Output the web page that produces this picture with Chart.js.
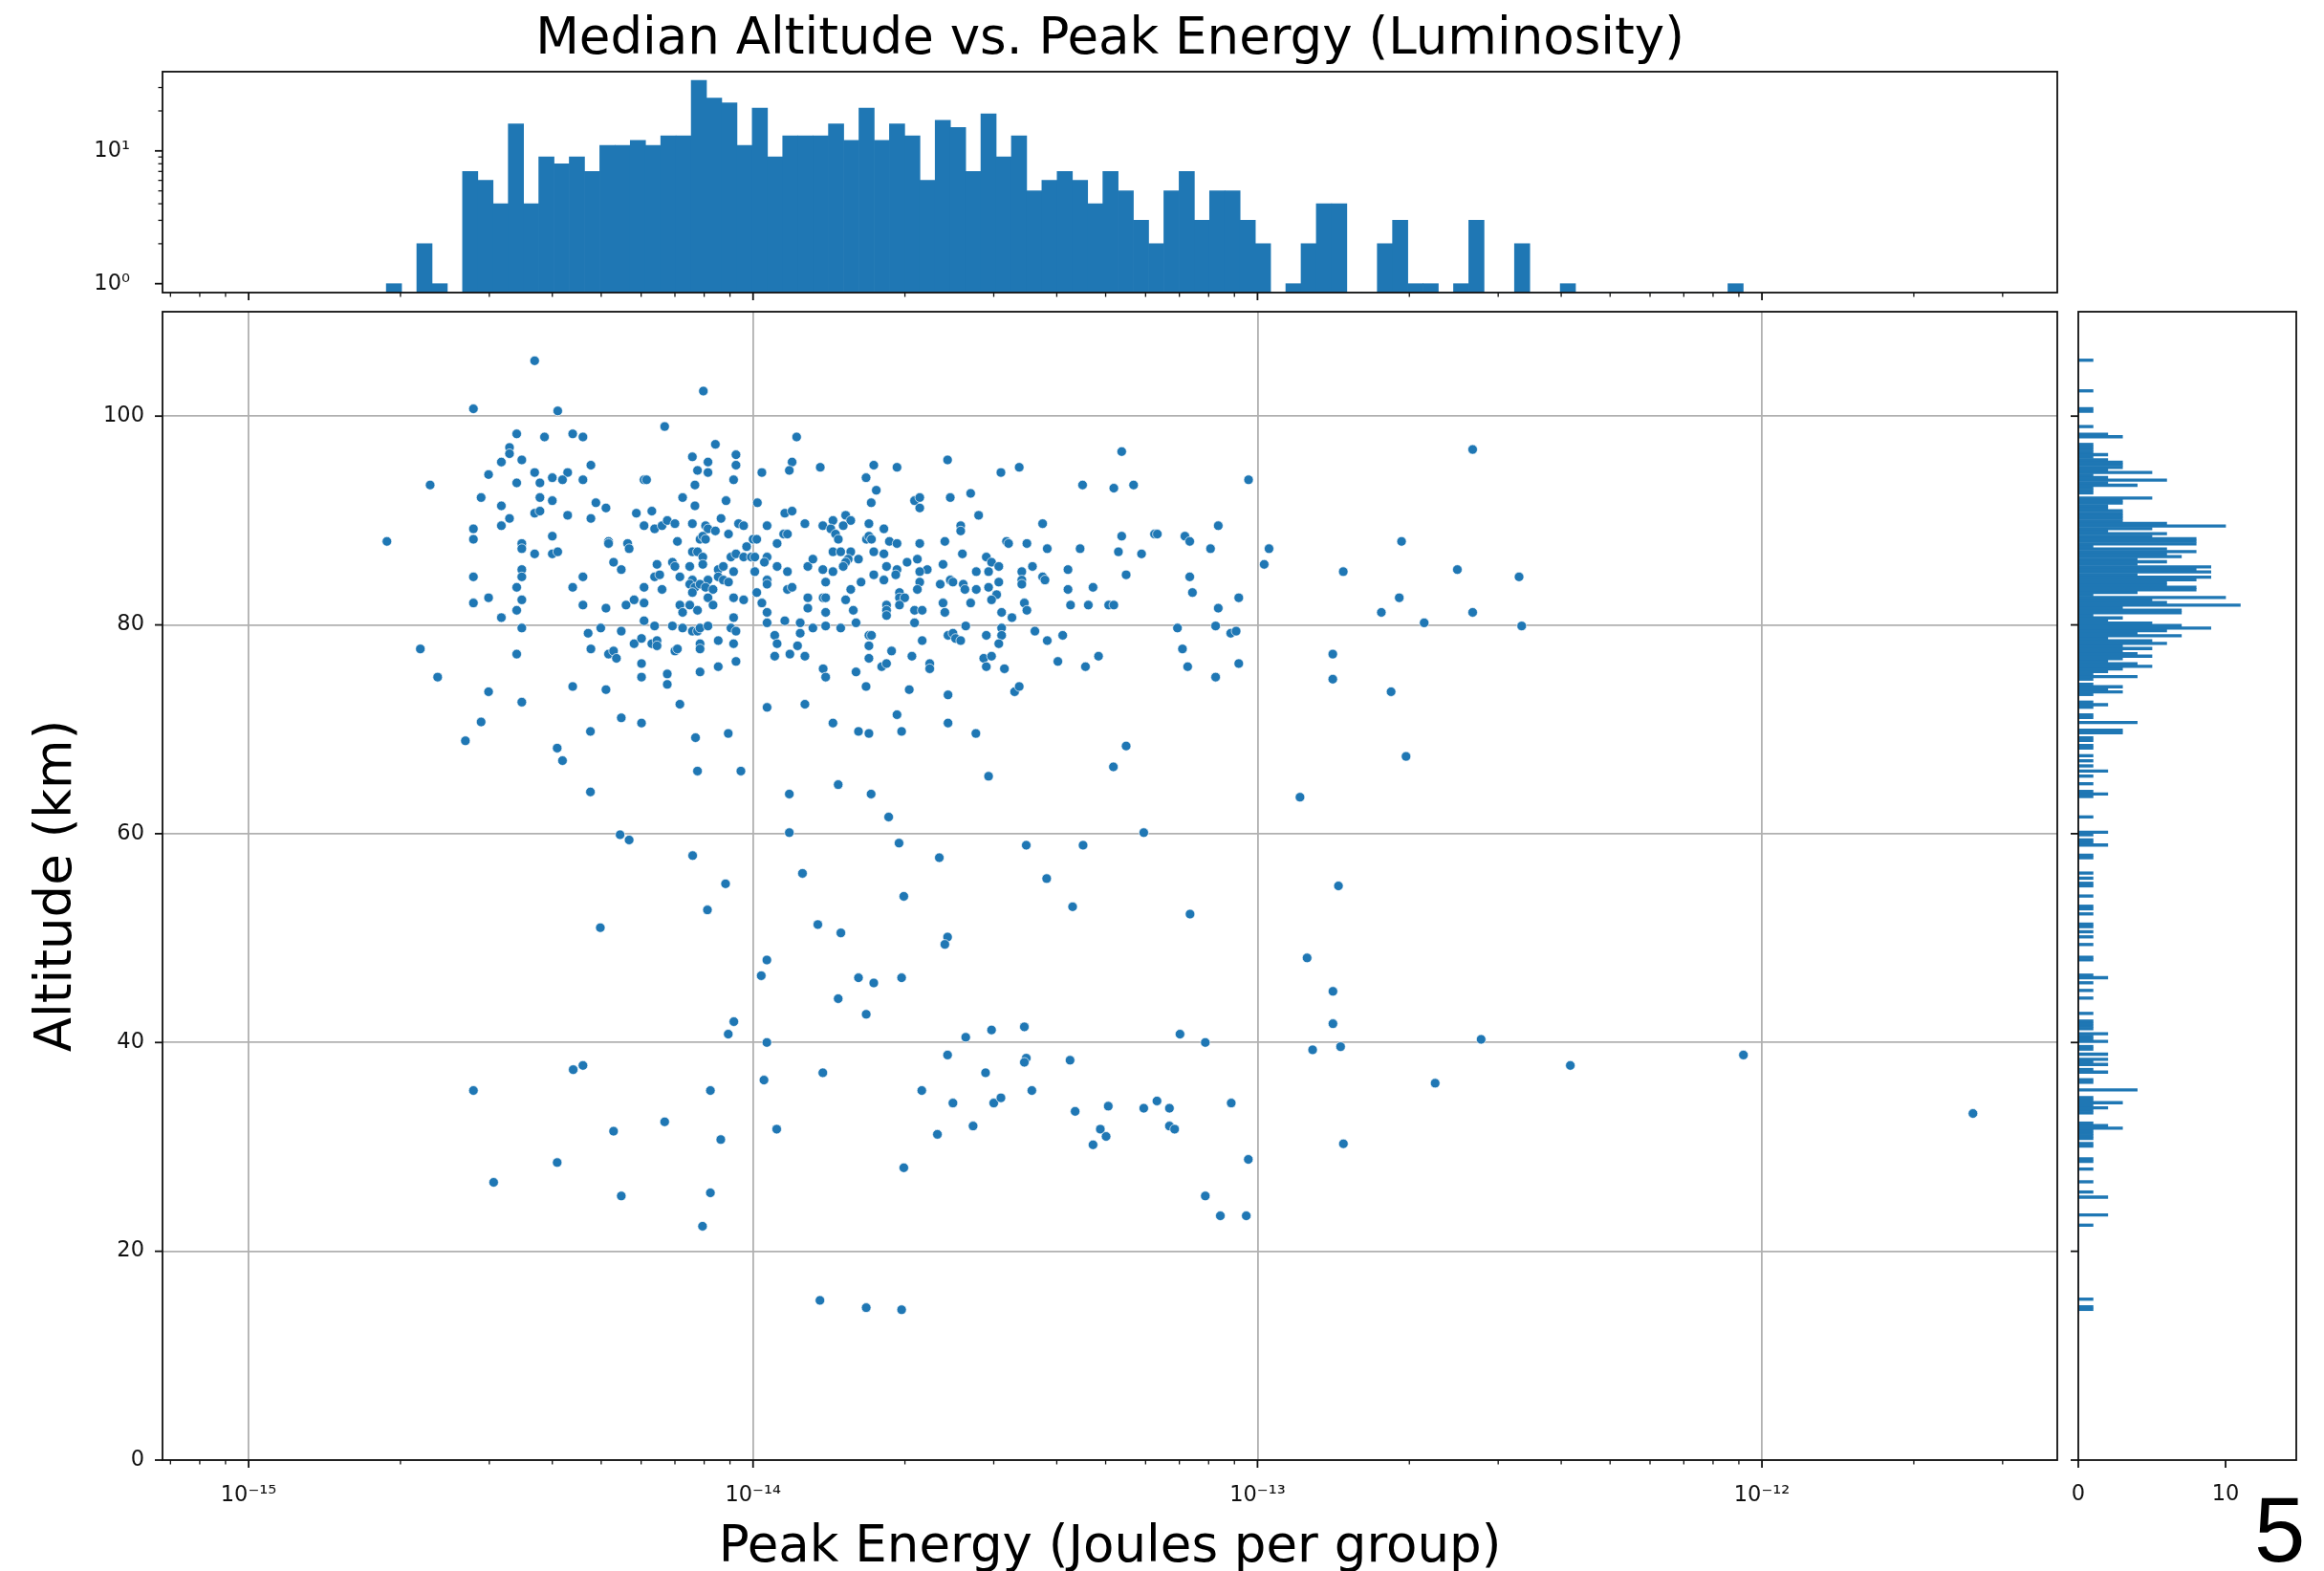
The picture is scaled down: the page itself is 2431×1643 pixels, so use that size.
<!DOCTYPE html>
<html>
<head>
<meta charset="utf-8">
<title>Median Altitude vs. Peak Energy</title>
<script src="https://cdn.jsdelivr.net/npm/chart.js@4.4.1/dist/chart.umd.min.js"></script>
<style>
    html, body { margin: 0; padding: 0; background: #ffffff; }
    #figure { position: relative; width: 2431px; height: 1643px; overflow: hidden; background: #ffffff; }
    #figure canvas { position: absolute; left: 0; top: 0; }
    #panel-label {
        position: absolute; left: 2358px; top: 1552px;
        font: 96px/1 "Liberation Sans", Arial, sans-serif; color: #000;
    }
</style>
</head>
<body>
<div id="figure">
    <canvas id="energyHist" width="2431" height="1643"></canvas>
    <canvas id="scatter" width="2431" height="1643"></canvas>
    <canvas id="altitudeHist" width="2431" height="1643"></canvas>
    <div id="panel-label">5</div>
</div>
<script>
// ---- data ----------------------------------------------------------------

// peak energy (J per group) of each event
const peakEnergy = [
    3.69e-15, 7.97e-15, 2.79e-15, 4.10e-15, 6.68e-15, 3.40e-15, 3.86e-15, 4.39e-15, 4.60e-15, 8.42e-15,
    3.29e-15, 3.29e-15, 9.25e-15, 3.17e-15, 3.48e-15, 7.58e-15, 8.14e-15, 9.25e-15, 4.77e-15, 7.76e-15,
    8.14e-15, 2.99e-15, 3.69e-15, 4.29e-15, 4.00e-15, 4.19e-15, 3.78e-15, 3.40e-15, 4.60e-15, 6.08e-15,
    6.15e-15, 9.15e-15, 2.29e-15, 7.67e-15, 2.89e-15, 3.78e-15, 4.00e-15, 7.25e-15, 8.84e-15, 3.17e-15,
    4.88e-15, 5.11e-15, 7.67e-15, 3.69e-15, 3.78e-15, 4.29e-15, 3.29e-15, 4.77e-15, 5.87e-15, 6.30e-15,
    8.64e-15, 2.79e-15, 3.17e-15, 6.08e-15, 6.38e-15, 6.60e-15, 6.76e-15, 7.00e-15, 7.58e-15, 8.05e-15,
    8.14e-15, 8.42e-15, 8.94e-15, 9.36e-15, 9.58e-15, 2.79e-15, 4.00e-15, 1.88e-15, 3.48e-15, 3.48e-15,
    3.69e-15, 4.00e-15, 4.10e-15, 5.17e-15, 5.17e-15, 5.64e-15, 5.68e-15, 7.08e-15, 7.85e-15, 7.95e-15,
    8.05e-15, 1.00e-14, 9.71e-15, 7.58e-15, 7.76e-15, 7.95e-15, 9.04e-15, 9.25e-15, 9.58e-15, 9.92e-15,
    5.29e-15, 5.48e-15, 6.45e-15, 6.92e-15, 7.00e-15, 7.49e-15, 7.95e-15, 8.53e-15, 8.73e-15, 9.15e-15,
    3.48e-15, 3.48e-15, 2.79e-15, 4.60e-15, 6.38e-15, 6.53e-15, 7.16e-15, 7.58e-15, 8.14e-15, 8.53e-15,
    8.73e-15, 8.94e-15, 3.40e-15, 4.39e-15, 6.08e-15, 6.60e-15, 7.49e-15, 7.67e-15, 7.85e-15, 8.05e-15,
    8.33e-15, 7.58e-15, 8.14e-15, 2.79e-15, 2.99e-15, 3.48e-15, 4.60e-15, 5.11e-15, 5.60e-15, 5.81e-15,
    6.08e-15, 7.16e-15, 7.49e-15, 7.76e-15, 8.33e-15, 9.15e-15, 9.58e-15, 3.40e-15, 3.17e-15, 7.25e-15,
    9.15e-15, 3.48e-15, 4.71e-15, 4.99e-15, 5.48e-15, 6.08e-15, 6.38e-15, 6.92e-15, 7.25e-15, 7.58e-15,
    7.76e-15, 7.85e-15, 8.14e-15, 9.04e-15, 9.25e-15, 2.19e-15, 3.40e-15, 4.77e-15, 5.17e-15, 5.29e-15,
    5.36e-15, 5.81e-15, 6.01e-15, 6.30e-15, 6.45e-15, 6.45e-15, 7.00e-15, 7.08e-15, 7.85e-15, 7.85e-15,
    8.53e-15, 9.15e-15, 6.01e-15, 6.01e-15, 6.76e-15, 6.76e-15, 7.85e-15, 8.53e-15, 9.25e-15, 2.37e-15,
    2.99e-15, 3.48e-15, 4.39e-15, 5.11e-15, 7.16e-15, 2.89e-15, 5.48e-15, 6.01e-15,

    1.22e-14, 5.38e-14, 2.43e-14, 1.195e-14, 1.18e-14, 1.041e-14, 1.359e-14, 1.735e-14, 1.929e-14, 3.10e-14,
    3.37e-14, 1.675e-14, 1.755e-14, 4.50e-14, 5.19e-14, 5.68e-14, 2.70e-14, 2.46e-14, 2.09e-14, 2.14e-14,
    2.14e-14, 1.02e-14, 1.715e-14, 1.156e-14, 1.195e-14, 2.80e-14, 1.066e-14, 1.267e-14, 1.375e-14, 1.44e-14,
    1.426e-14, 1.526e-14, 1.562e-14, 1.509e-14, 1.697e-14, 1.817e-14, 2.58e-14, 2.58e-14, 3.75e-14, 1.15e-14,
    1.17e-14, 1.017e-14, 1.116e-14, 1.457e-14, 1.476e-14, 1.678e-14, 1.697e-14, 1.717e-14, 1.863e-14, 1.929e-14,
    2.14e-14, 2.40e-14, 3.18e-14, 3.21e-14, 3.49e-14, 5.38e-14, 6.25e-14, 3.83e-14, 4.45e-14, 5.30e-14,
    5.89e-14, 1.008e-14, 1.066e-14, 1.053e-14, 1.116e-14, 1.284e-14, 1.314e-14, 1.44e-14, 1.492e-14, 1.562e-14,
    1.544e-14, 1.526e-14, 1.618e-14, 1.735e-14, 1.817e-14, 2.02e-14, 2.117e-14, 2.60e-14, 2.90e-14, 2.97e-14,
    3.07e-14, 2.38e-14, 1.839e-14, 1.929e-14, 1.918e-14, 2.215e-14, 2.14e-14, 1.008e-14, 1.17e-14, 1.375e-14,
    1.44e-14, 1.509e-14, 1.735e-14, 2.77e-14, 2.93e-14, 3.41e-14, 3.58e-14, 4.21e-14, 5.49e-14, 1.066e-14,
    1.066e-14, 1.393e-14, 1.637e-14, 1.817e-14, 2.14e-14, 2.35e-14, 2.46e-14, 2.49e-14, 2.61e-14, 2.63e-14,
    2.77e-14, 2.93e-14, 3.07e-14, 3.41e-14, 3.41e-14, 3.75e-14, 3.79e-14, 4.21e-14, 4.72e-14, 1.017e-14,
    1.17e-14, 1.195e-14, 1.562e-14, 1.951e-14, 2.117e-14, 3.04e-14, 1.284e-14, 1.377e-14, 1.393e-14, 1.526e-14,
    1.839e-14, 1.951e-14, 1.998e-14, 2.38e-14, 2.70e-14, 2.97e-14, 3.45e-14, 4.26e-14, 4.62e-14, 5.07e-14,
    5.19e-14, 1.041e-14, 1.284e-14, 1.58e-14, 1.839e-14, 1.951e-14, 2.09e-14, 2.164e-14, 2.40e-14, 3.49e-14,
    1.066e-14, 1.393e-14, 1.839e-14, 3.11e-14, 3.26e-14, 1.156e-14, 1.066e-14, 1.24e-14, 1.314e-14, 1.393e-14,
    1.492e-14, 1.60e-14, 2.09e-14, 2.64e-14, 3.11e-14, 3.62e-14, 1.104e-14, 1.24e-14, 1.697e-14, 1.717e-14,
    2.435e-14, 2.49e-14, 2.52e-14, 2.58e-14, 2.90e-14, 3.11e-14, 3.83e-14, 4.11e-14, 1.116e-14, 1.225e-14,
    1.697e-14, 2.164e-14, 3.07e-14, 1.104e-14, 1.183e-14, 1.267e-14, 1.882e-14, 2.065e-14, 1.697e-14, 2.866e-14,
    2.97e-14, 2.90e-14, 1.799e-14, 1.839e-14, 2.24e-14, 2.24e-14, 3.15e-14, 4.02e-14, 4.56e-14, 4.84e-14,
    1.377e-14, 1.393e-14, 1.60e-14, 1.675e-14, 2.04e-14, 2.435e-14, 3.30e-14, 3.37e-14, 1.066e-14, 1.267e-14,
    1.929e-14, 1.44e-14, 2.435e-14,

    2.67e-13, 9.60e-14, 8.36e-14, 6.33e-14, 7.18e-14, 7.34e-14, 8.07e-14, 1.054e-13, 1.93e-13, 1.031e-13,
    1.479e-13, 2.49e-13, 3.30e-13, 7.34e-14, 7.43e-14, 9.18e-14, 1.91e-13, 8.36e-14, 1.76e-13, 2.67e-13,
    6.94e-14, 8.26e-14, 8.85e-14, 9.07e-14, 2.14e-13, 3.34e-13, 7.10e-14, 1.41e-13, 7.27e-14, 9.18e-14,
    8.26e-14, 1.41e-13, 1.84e-13,

    2.69e-15, 4.09e-15, 4.19e-15, 4.76e-15, 7.69e-15, 8.93e-15, 7.76e-15, 9.46e-15, 4.76e-15, 1.618e-14,
    1.697e-14, 1.97e-14, 2.765e-14, 5.49e-14, 5.18e-14, 2.93e-14, 1.475e-14, 1.18e-14, 1.714e-14, 1.857e-14,
    5.45e-15, 5.68e-15, 1.18e-14, 1.947e-14, 3.48e-14, 4.51e-14, 5.95e-14, 7.59e-15, 2.34e-14, 1.253e-14,
    3.82e-14, 8.82e-15, 1.99e-14, 4.30e-14, 8.12e-15, 7.35e-14, 4.98e-15, 1.344e-14, 1.493e-14, 2.43e-14,
    2.40e-14, 1.065e-14, 1.038e-14, 1.618e-14, 1.735e-14, 1.97e-14, 1.475e-14, 1.676e-14, 9.16e-15, 8.93e-15,
    1.065e-14, 2.64e-14, 2.97e-14, 3.45e-14, 7.02e-14, 7.88e-14, 2.43e-14, 3.48e-14, 3.45e-14, 4.25e-14,
    4.40e-15, 4.60e-15, 1.375e-14, 2.89e-14, 2.79e-15, 8.23e-15, 1.051e-14, 2.16e-14, 3.57e-14, 2.49e-14,
    3.00e-14, 3.10e-14, 4.35e-14, 5.06e-14, 5.95e-14, 6.32e-14, 6.69e-14, 6.68e-15, 5.29e-15, 8.63e-15,
    1.114e-14, 2.32e-14, 2.73e-14, 4.88e-14, 5.01e-14, 4.72e-14, 6.69e-14, 6.85e-14, 4.09e-15, 3.06e-15,
    1.99e-14, 5.48e-15, 8.23e-15, 7.88e-14, 7.94e-15, 1.357e-14, 1.676e-14, 1.97e-14,

    1.97e-13, 1.214e-13, 1.447e-13, 1.254e-13, 1.411e-13, 1.411e-13, 1.286e-13, 1.461e-13, 2.775e-13, 9.19e-13,
    4.17e-13, 2.25e-13, 8.87e-14, 2.62e-12, 1.48e-13, 9.59e-14, 8.44e-14, 9.50e-14
];

// median altitude (km) of each event, same order as peakEnergy
const medianAltitude = [
    105.3, 102.4, 100.7, 100.5, 99.0, 98.3, 98.0, 98.3, 98.0, 97.3,
    97.0, 96.4, 96.3, 95.6, 95.8, 96.1, 95.6, 95.3, 95.3, 94.8,
    94.6, 94.4, 94.6, 94.6, 94.1, 93.9, 93.6, 93.6, 93.9, 93.9,
    93.9, 93.9, 93.4, 93.4, 92.2, 92.2, 91.9, 92.2, 91.9, 91.4,
    91.7, 91.2, 91.4, 90.7, 90.9, 90.5, 90.2, 90.2, 90.7, 90.9,
    90.2, 89.2, 89.5, 89.5, 89.2, 89.5, 90.0, 89.7, 89.7, 89.5,
    89.2, 89.0, 88.7, 89.7, 89.5, 88.2, 88.5, 88.0, 87.8, 87.3,
    86.8, 86.8, 87.0, 88.0, 87.8, 87.8, 87.3, 88.0, 88.2, 88.5,
    88.2, 88.2, 87.5, 87.0, 87.0, 86.5, 86.5, 86.8, 86.5, 86.5,
    86.0, 85.3, 85.8, 86.0, 85.6, 85.6, 85.8, 85.3, 85.6, 85.1,
    85.3, 84.6, 84.6, 84.6, 84.6, 84.8, 84.6, 84.3, 84.3, 84.6,
    84.3, 84.1, 83.6, 83.6, 83.6, 83.4, 83.9, 83.6, 83.9, 83.6,
    83.4, 83.1, 82.6, 82.1, 82.6, 82.4, 81.9, 81.6, 81.9, 82.4,
    82.1, 81.9, 81.9, 81.4, 81.9, 82.6, 82.4, 81.4, 80.7, 81.2,
    80.7, 79.7, 79.2, 79.7, 79.4, 80.4, 79.9, 79.9, 79.7, 79.4,
    79.4, 79.7, 79.9, 79.7, 79.4, 77.7, 77.2, 77.7, 77.2, 77.5,
    76.8, 78.2, 78.7, 78.2, 78.5, 78.0, 77.5, 77.7, 78.2, 77.7,
    78.5, 78.2, 76.3, 75.0, 75.3, 74.3, 75.5, 76.0, 76.5, 75.0,
    73.6, 72.6, 74.1, 73.8, 72.4, 70.7, 71.1, 70.6,

    98.0, 96.6, 95.8, 95.6, 94.8, 94.6, 95.1, 95.3, 95.1, 94.6,
    95.1, 94.1, 92.9, 93.4, 93.1, 93.4, 92.6, 92.2, 91.9, 92.2,
    91.2, 91.7, 91.7, 90.7, 90.9, 90.5, 89.5, 89.7, 89.5, 90.0,
    89.2, 90.5, 90.0, 89.5, 89.7, 89.2, 89.5, 89.0, 89.7, 88.7,
    88.7, 88.2, 87.8, 88.7, 88.2, 88.2, 88.5, 88.2, 88.0, 87.8,
    87.8, 88.0, 88.0, 87.8, 87.8, 88.5, 88.7, 87.3, 87.3, 87.0,
    86.8, 86.5, 86.5, 86.0, 85.6, 85.6, 86.3, 87.0, 87.0, 87.0,
    86.3, 86.0, 86.3, 87.0, 86.8, 86.0, 86.3, 86.8, 86.5, 86.0,
    85.6, 85.8, 85.6, 85.3, 84.8, 85.3, 85.1, 85.1, 85.1, 85.3,
    85.1, 85.6, 84.8, 85.1, 85.1, 85.1, 85.6, 85.3, 84.8, 84.3,
    83.9, 84.1, 84.1, 84.3, 84.1, 83.9, 84.3, 84.1, 83.9, 83.4,
    83.4, 83.6, 84.1, 84.3, 83.9, 84.6, 84.3, 83.4, 83.6, 83.1,
    83.4, 83.6, 83.4, 83.1, 83.4, 82.9, 82.6, 82.6, 82.6, 82.4,
    81.9, 82.6, 82.6, 82.1, 82.1, 82.4, 82.1, 81.9, 81.9, 81.9,
    81.9, 82.1, 81.6, 81.4, 81.4, 81.9, 81.4, 81.4, 81.2, 81.4,
    81.2, 81.2, 80.9, 81.2, 80.7, 80.4, 80.2, 80.2, 79.7, 79.9,
    79.7, 80.2, 80.2, 79.9, 79.7, 79.4, 79.0, 79.2, 79.0, 79.0,
    79.0, 79.2, 78.7, 78.5, 79.0, 79.0, 78.5, 79.0, 78.2, 78.0,
    78.0, 78.5, 78.2, 77.0, 77.2, 77.0, 77.5, 77.0, 76.8, 76.8,
    77.0, 76.0, 76.0, 76.3, 76.3, 75.8, 75.8, 76.5, 76.0, 77.0,
    75.8, 75.0, 75.5, 74.1, 73.8, 73.3, 73.6, 74.1, 72.1, 72.4,
    71.4, 70.6, 70.6,

    96.8, 93.9, 89.5, 88.7, 88.5, 88.0, 87.3, 87.3, 88.0, 85.8,
    85.1, 85.3, 84.6, 84.6, 83.1, 82.6, 82.6, 81.6, 81.2, 81.2,
    79.7, 79.9, 79.2, 79.4, 80.2, 79.9, 77.7, 77.2, 76.0, 76.3,
    75.0, 74.8, 73.6,

    68.9, 68.2, 67.0, 69.8, 69.2, 69.6, 66.0, 66.0, 64.0, 69.8,
    69.6, 69.8, 69.6, 68.4, 66.4, 65.5, 64.7, 63.8, 63.8, 61.6,
    59.9, 59.4, 60.1, 59.1, 58.9, 58.9, 60.1, 57.9, 57.7, 56.2,
    55.7, 55.2, 54.0, 53.0, 52.7, 52.3, 51.0, 51.3, 50.5, 50.1,
    49.4, 47.9, 46.4, 46.2, 45.7, 46.2, 44.2, 42.7, 42.0, 40.8,
    40.0, 40.5, 41.2, 41.5, 40.8, 40.0, 38.8, 38.5, 38.1, 38.3,
    37.4, 37.8, 37.1, 37.1, 35.4, 35.4, 36.4, 35.4, 35.4, 34.2,
    34.2, 34.7, 33.4, 33.9, 33.7, 34.4, 33.7, 32.4, 31.5, 30.7,
    31.7, 31.2, 32.0, 31.7, 31.0, 30.2, 32.0, 31.7, 28.5, 26.6,
    28.0, 25.3, 25.6, 25.3, 22.4, 15.3, 14.6, 14.4,

    67.4, 63.5, 55.0, 48.1, 44.9, 41.8, 39.3, 39.6, 40.3, 38.8,
    37.8, 36.1, 34.2, 33.2, 30.3, 28.8, 23.4, 23.4
];

// energy histogram: 89 log-spaced bins between these edges
const energyBinLow = 1.875e-15;
const energyBinHigh = 9.18e-13;
const energyBinCounts = [
    1, 0, 2, 1, 0, 7, 6, 4, 16, 4,
    9, 8, 9, 7, 11, 11, 12, 11, 13, 13,
    34, 25, 23, 11, 21, 9, 13, 13, 13, 16,
    12, 21, 12, 16, 13, 6, 17, 15, 7, 19,
    9, 13, 5, 6, 7, 6, 4, 7, 5, 3,
    2, 5, 7, 3, 5, 5, 3, 2, 0, 1,
    2, 4, 4, 0, 0, 2, 3, 1, 1, 0,
    1, 3, 0, 0, 2, 0, 0, 1, 0, 0,
    0, 0, 0, 0, 0, 0, 0, 0, 1
];

// altitude histogram bins (km)
const altitudeBinStart = 14.07;
const altitudeBinEnd = 105.8;
const altitudeBinWidth = 0.2444;

// axis ticks
const energyTickExponents = [-15, -14, -13, -12];
const energyTickLabels = ['10\u207B\u00B9\u2075', '10\u207B\u00B9\u2074', '10\u207B\u00B9\u00B3', '10\u207B\u00B9\u00B2'];
const altitudeTicks = [0, 20, 40, 60, 80, 100];
const countTicks = [0, 10];
const logCountTicks = [1, 2, 3, 4, 5, 6, 7, 8, 9, 10, 20, 30];
const logCountLabels = { 1: '10\u2070', 10: '10\u00B9' };

// ---- layout --------------------------------------------------------------

const W = 2431, H = 1643;
const BLUE = '#1f77b4';
const INK = '#111111';

const mainArea = { left: 170, top: 326, right: 2152, bottom: 1527 };
const topArea = { left: 170, top: 75, right: 2152, bottom: 306 };
const sideArea = { left: 2174, top: 326, right: 2402, bottom: 1527 };

const energyMin = 6.75e-16;
const energyMax = 3.85e-12;

Chart.defaults.font.family = "'DejaVu Sans', sans-serif";
Chart.defaults.color = INK;

// spines and outward tick marks (major long, minor short)
const axisFrame = {
    id: 'axisFrame',
    afterDraw(chart) {
        const { ctx, chartArea: a } = chart;
        ctx.save();
        ctx.strokeStyle = INK;
        Object.values(chart.scales).forEach(scale => {
            scale.ticks.forEach(t => {
                const major = t.major !== false;
                const len = major ? 8 : 4.5;
                ctx.lineWidth = major ? 1.8 : 1.3;
                const p = scale.getPixelForValue(t.value);
                ctx.beginPath();
                if (scale.isHorizontal()) {
                    ctx.moveTo(p, a.bottom);
                    ctx.lineTo(p, a.bottom + len);
                } else {
                    ctx.moveTo(a.left, p);
                    ctx.lineTo(a.left - len, p);
                }
                ctx.stroke();
            });
        });
        ctx.lineWidth = 1.8;
        ctx.strokeRect(a.left, a.top, a.right - a.left, a.bottom - a.top);
        ctx.restore();
    }
};

function energyTicks(scale) {
    const ticks = [];
    for (let e = -16; e <= -11; e++) {
        for (let m = 1; m <= 9; m++) {
            const v = m * Math.pow(10, e);
            if (v >= scale.min && v <= scale.max) ticks.push({ value: v, major: m === 1 });
        }
    }
    scale.ticks = ticks;
}

function energyLabel(value, index, ticks) {
    if (!ticks[index].major) return '';
    const i = energyTickExponents.indexOf(Math.round(Math.log10(value)));
    return i >= 0 ? energyTickLabels[i] : '';
}

function fixedTicks(values) {
    return scale => { scale.ticks = values.map(v => ({ value: v, major: true })); };
}

function padding(area, yAxisWidth, xAxisHeight, topBoxes) {
    return {
        left: area.left - yAxisWidth,
        right: W - area.right,
        top: area.top - topBoxes,
        bottom: H - area.bottom - xAxisHeight
    };
}

const tickFont = { size: 22.5 };
const common = {
    responsive: false,
    animation: false,
    devicePixelRatio: 1,
    events: []
};

// ---- main scatter --------------------------------------------------------

const points = peakEnergy.map((e, i) => ({ x: e, y: medianAltitude[i] }));

new Chart(document.getElementById('scatter'), {
    type: 'scatter',
    data: {
        datasets: [{
            data: points,
            backgroundColor: BLUE,
            borderColor: 'rgba(255,255,255,0.85)',
            pointRadius: 5,
            pointBorderWidth: 0.8
        }]
    },
    options: {
        ...common,
        layout: { padding: padding(mainArea, 145, 116, 0) },
        plugins: { legend: { display: false }, tooltip: { enabled: false } },
        scales: {
            x: {
                type: 'logarithmic',
                position: 'bottom',
                min: energyMin,
                max: energyMax,
                afterBuildTicks: energyTicks,
                afterFit: s => { s.height = 116; },
                border: { display: false },
                grid: {
                    drawTicks: false,
                    lineWidth: 1.8,
                    color: c => (c.tick && c.tick.major ? '#b0b0b0' : 'rgba(0,0,0,0)')
                },
                ticks: {
                    autoSkip: false, maxRotation: 0, minRotation: 0,
                    padding: 24, font: tickFont, color: INK,
                    callback: energyLabel
                },
                title: {
                    display: true, text: 'Peak Energy (Joules per group)',
                    font: { size: 53, lineHeight: 0.9 }, color: '#000', padding: 0
                }
            },
            y: {
                type: 'linear',
                position: 'left',
                min: 0,
                max: 110,
                afterBuildTicks: fixedTicks(altitudeTicks),
                afterFit: s => { s.width = 145; },
                border: { display: false },
                grid: { drawTicks: false, lineWidth: 1.8, color: '#b0b0b0' },
                ticks: { padding: 19, font: tickFont, color: INK },
                title: {
                    display: true, text: 'Altitude (km)',
                    font: { size: 53 }, color: '#000', padding: { top: 3, bottom: 0 }
                }
            }
        }
    },
    plugins: [axisFrame]
});

// ---- energy histogram (top) ----------------------------------------------

const logLow = Math.log10(energyBinLow);
const logStep = (Math.log10(energyBinHigh) - logLow) / energyBinCounts.length;
const energyBars = energyBinCounts.map((n, i) => ({
    x: Math.pow(10, logLow + (i + 0.5) * logStep),
    y: n
}));

new Chart(document.getElementById('energyHist'), {
    type: 'bar',
    data: {
        datasets: [{
            data: energyBars,
            backgroundColor: BLUE,
            borderWidth: 0,
            barPercentage: 1,
            categoryPercentage: 1
        }]
    },
    options: {
        ...common,
        layout: { padding: padding(topArea, 100, 16, 75) },
        plugins: {
            legend: { display: false },
            tooltip: { enabled: false },
            title: {
                display: true,
                fullSize: false,
                text: 'Median Altitude vs. Peak Energy (Luminosity)',
                font: { size: 53, weight: 'normal', lineHeight: 1.15 },
                color: '#000',
                padding: { top: 12, bottom: 2 }
            }
        },
        scales: {
            x: {
                type: 'logarithmic',
                position: 'bottom',
                min: energyMin,
                max: energyMax,
                offset: false,
                afterBuildTicks: energyTicks,
                afterFit: s => { s.height = 16; },
                border: { display: false },
                grid: { display: false, offset: false },
                ticks: { display: false, autoSkip: false }
            },
            y: {
                type: 'logarithmic',
                position: 'left',
                min: 0.857,
                max: 39.5,
                afterBuildTicks: scale => {
                    scale.ticks = logCountTicks.map(v => ({ value: v, major: v in logCountLabels }));
                },
                afterFit: s => { s.width = 100; },
                border: { display: false },
                grid: { display: false },
                ticks: {
                    autoSkip: false, padding: 26, font: tickFont, color: INK,
                    callback: v => logCountLabels[v] || ''
                }
            }
        }
    },
    plugins: [axisFrame]
});

// ---- altitude histogram (right) ------------------------------------------

const altitudeBinTotal = Math.ceil((altitudeBinEnd - altitudeBinStart) / altitudeBinWidth);
const altitudeCounts = new Array(altitudeBinTotal).fill(0);
medianAltitude.forEach(a => {
    const i = Math.floor((a - altitudeBinStart) / altitudeBinWidth);
    if (i >= 0 && i < altitudeBinTotal) altitudeCounts[i]++;
});
const altitudeBars = altitudeCounts.map((n, i) => ({
    x: n,
    y: altitudeBinStart + (i + 0.5) * altitudeBinWidth
}));

new Chart(document.getElementById('altitudeHist'), {
    type: 'bar',
    data: {
        datasets: [{
            data: altitudeBars,
            backgroundColor: BLUE,
            borderWidth: 0,
            barPercentage: 1,
            categoryPercentage: 1
        }]
    },
    options: {
        ...common,
        indexAxis: 'y',
        layout: { padding: padding(sideArea, 10, 60, 0) },
        plugins: { legend: { display: false }, tooltip: { enabled: false } },
        scales: {
            y: {
                type: 'linear',
                position: 'left',
                min: 0,
                max: 110,
                offset: false,
                afterBuildTicks: fixedTicks(altitudeTicks),
                afterFit: s => { s.width = 10; },
                border: { display: false },
                grid: { display: false, offset: false },
                ticks: { display: false }
            },
            x: {
                type: 'linear',
                position: 'bottom',
                min: 0,
                max: 14.8,
                afterBuildTicks: fixedTicks(countTicks),
                afterFit: s => { s.height = 60; },
                border: { display: false },
                grid: { display: false },
                ticks: { padding: 15, font: tickFont, color: INK, maxRotation: 0 }
            }
        }
    },
    plugins: [axisFrame]
});
</script>
</body>
</html>
